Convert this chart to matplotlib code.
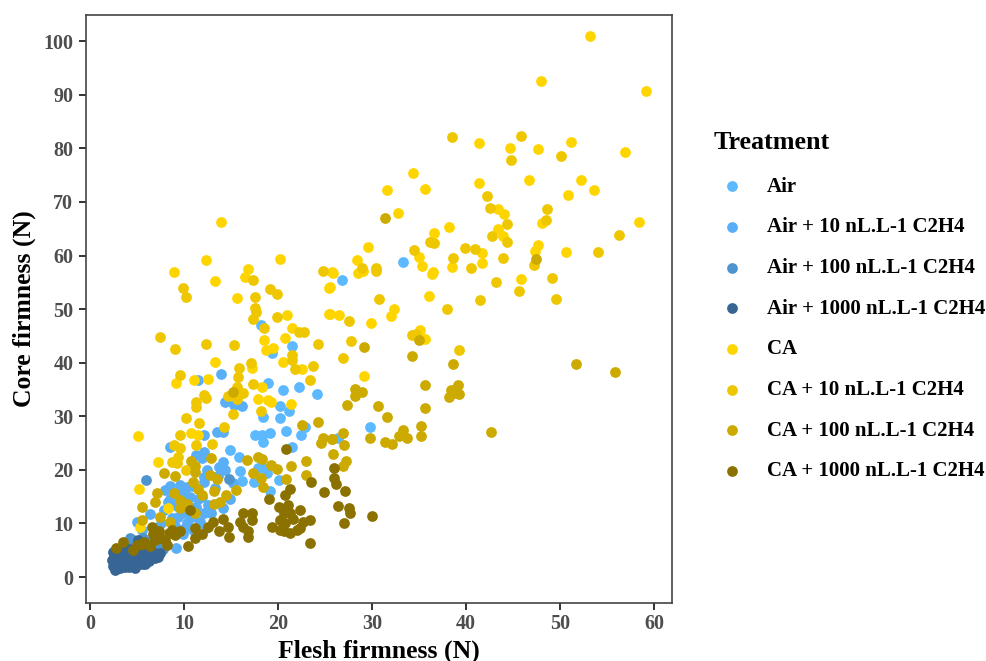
import matplotlib
matplotlib.use('Agg')
import matplotlib.pyplot as plt

plt.rcParams['font.family'] = ['Liberation Serif', 'DejaVu Serif']
plt.rcParams['font.weight'] = 'bold'

treatments = ['Air', 'Air + 10 nL.L-1 C2H4', 'Air + 100 nL.L-1 C2H4', 'Air + 1000 nL.L-1 C2H4',
              'CA', 'CA + 10 nL.L-1 C2H4', 'CA + 100 nL.L-1 C2H4', 'CA + 1000 nL.L-1 C2H4']
colors = ['#5CB8FF', '#59AEF5', '#4E94CF', '#376695', '#FFD500', '#EEC700', '#CCAA00', '#8B7200']

x_ticks = [0, 10, 20, 30, 40, 50, 60]
y_ticks = [0, 10, 20, 30, 40, 50, 60, 70, 80, 90, 100]

# flesh / core firmness
air_x = [33.3, 26.8, 18.2, 21.5, 19.4, 18.9, 20.5, 22.2, 24.1, 20.2, 21.2, 18.4, 20.2, 29.8, 22.9, 20.9, 22.4,
         26.4, 17.5, 18.3, 19.1, 18.4, 21.5, 18.3, 18.8, 17.9, 20.1, 19.1, 17.4, 16.2, 16.0, 15.9, 14.9]
air_y = [58.8, 55.4, 47.1, 43.2, 41.8, 36.2, 34.9, 35.5, 34.1, 31.9, 31.0, 29.9, 29.7, 28.0, 28.0, 27.3, 26.5,
         25.9, 26.5, 26.5, 26.8, 25.2, 24.3, 20.6, 19.5, 20.3, 18.2, 16.1, 17.8, 17.9, 19.8, 22.4, 23.7]

air10_x = [13.9, 11.5, 14.4, 15.3, 16.2, 13.5, 14.1, 12.1, 8.5, 12.1, 11.3, 11.9, 14.2, 13.7, 14.4, 8.5, 9.6, 10.3,
           12.1, 12.1, 13.3, 8.3, 10.6, 11.3, 12.1, 11.7, 10.3, 9.4, 11.0, 9.9, 9.2, 5.0, 14.2, 14.9, 8.5, 7.9,
           10.0, 10.8, 11.5, 10.0, 9.3, 10.6, 11.9, 12.6, 9.0, 10.1, 11.2, 12.3, 8.7, 9.8, 6.4, 7.0, 5.5, 7.6,
           12.9, 13.6, 15.2, 11.0, 12.4, 8.0]
air10_y = [37.9, 36.8, 32.7, 32.1, 32.0, 27.1, 27.1, 26.5, 24.3, 23.4, 22.8, 22.3, 21.4, 20.6, 20.0, 17.0, 17.2, 16.8,
           18.7, 17.8, 16.7, 14.0, 15.0, 13.1, 11.9, 10.3, 10.0, 11.2, 8.8, 8.1, 5.4, 10.3, 12.8, 14.5, 14.5, 12.5,
           12.0, 11.2, 14.5, 14.8, 13.3, 13.0, 14.9, 13.4, 9.6, 9.1, 12.7, 9.2, 11.0, 15.9, 11.7, 9.2, 8.8, 10.0,
           12.0, 18.8, 17.6, 17.0, 20.0, 16.2]

air100_x = [14.8, 6.0, 4.6, 4.3, 4.9, 5.6, 6.2, 3.2, 4.0, 7.0, 7.8, 6.5, 5.6]
air100_y = [18.3, 18.2, 6.9, 7.2, 5.8, 6.4, 4.8, 5.0, 6.0, 6.2, 5.2, 6.8, 7.2]

air1000_x = [2.3, 2.7, 3.7, 4.8, 5.9, 6.9, 7.4, 5.1, 2.5, 2.9, 3.2, 3.4, 3.8, 4.1, 4.4, 4.6, 5.0, 5.3, 5.6, 6.0,
             6.3, 6.6, 7.0, 2.6, 3.0, 3.5, 3.9, 4.3, 4.7, 5.2, 5.5, 5.8, 6.2, 6.5, 2.8, 3.3, 3.7, 4.2, 4.5, 4.9,
             5.4, 3.1, 3.6, 4.0, 2.4, 6.8, 7.2, 5.7]
air1000_y = [3.2, 1.3, 1.8, 1.7, 2.4, 3.5, 4.5, 6.9, 2.0, 2.6, 1.7, 3.6, 2.6, 1.9, 3.3, 2.2, 2.9, 3.8, 3.1, 4.1,
             3.0, 4.6, 4.0, 4.0, 4.2, 3.0, 4.5, 4.2, 3.7, 4.9, 2.5, 5.1, 5.3, 3.9, 1.5, 2.2, 5.0, 5.2, 2.7, 5.5,
             4.4, 3.4, 4.0, 3.0, 4.6, 4.4, 3.7, 3.6]

ca_x = [53.2, 48.0, 59.1, 41.4, 44.7, 47.6, 51.2, 56.9, 34.4, 31.6, 35.6, 41.4, 46.7, 52.2, 53.6, 50.8, 32.8, 43.4,
        44.0, 48.1, 58.4, 38.2, 36.6, 43.4, 43.9, 29.6, 28.4, 35.0, 35.3, 41.7, 41.7, 38.5, 47.6, 47.3, 50.6, 36.5,
        25.8, 28.5, 29.0, 36.4, 45.8, 36.1, 32.3, 32.0, 25.5, 25.5, 26.5, 29.9, 35.1, 35.6, 29.1, 13.9, 12.3,
        8.9, 13.3, 16.8, 16.5, 20.2, 15.6, 21.0, 21.5, 20.7, 18.5, 19.5, 18.7, 25.7, 25.4, 25.4, 13.3, 17.2,
        20.5, 22.5, 9.1, 11.1, 12.5, 18.3, 17.9, 18.9, 19.3, 21.4, 7.2, 5.1, 5.2, 8.3, 5.3, 10.7, 11.5]
ca_y = [100.9, 92.6, 90.8, 81.0, 80.0, 79.9, 81.2, 79.3, 75.4, 72.3, 72.5, 73.6, 74.1, 74.1, 72.2, 71.3, 68.0, 68.6,
        67.7, 66.0, 66.2, 65.4, 64.2, 64.9, 63.6, 61.6, 59.2, 59.8, 58.0, 60.5, 58.6, 57.8, 62.0, 60.9, 60.7, 57.0,
        56.8, 56.8, 57.2, 56.6, 55.7, 52.4, 50.0, 48.7, 54.2, 49.1, 48.9, 47.5, 46.1, 44.4, 37.5, 66.2, 59.1,
        56.9, 55.2, 57.5, 56.0, 59.4, 52.0, 48.9, 46.4, 44.6, 44.3, 42.8, 42.4, 56.9, 54.0, 49.1, 40.2, 39.0,
        40.2, 38.9, 36.3, 36.8, 37.0, 35.4, 33.2, 33.0, 32.6, 32.3, 21.4, 26.4, 16.4, 12.8, 9.4, 26.9, 26.6]

ca10_x = [38.5, 45.8, 44.8, 50.1, 42.2, 42.5, 44.4, 48.6, 48.5, 56.3, 36.2, 36.6, 42.8, 44.3, 34.5, 39.9, 40.9, 38.6,
          40.5, 43.9, 47.2, 54.0, 28.9, 30.4, 30.4, 43.2, 45.6, 49.1, 49.6, 30.7, 38.0, 41.5, 27.5, 27.8, 26.9, 34.3,
          34.7, 39.2, 9.9, 10.2, 17.3, 17.6, 19.1, 19.9, 17.6, 17.7, 17.3, 18.5, 19.9, 22.2, 22.8, 7.5, 9.0, 12.3,
          15.3, 24.2, 15.9, 17.1, 21.5, 21.5, 21.8, 23.7, 23.4, 9.6, 15.7, 17.3, 18.2, 15.2, 14.7, 15.6, 16.3,
          15.6, 12.1, 12.3, 11.3, 11.3, 10.2, 11.6, 9.6, 14.3, 11.3, 13.0, 8.9, 9.6, 9.4, 8.7, 9.3, 10.2, 24.8]
ca10_y = [82.1, 82.4, 77.9, 78.5, 71.1, 68.8, 65.9, 68.7, 66.7, 63.9, 62.6, 62.4, 63.6, 62.6, 61.1, 61.4, 61.2, 59.5,
          57.6, 59.6, 58.2, 60.6, 57.6, 57.6, 57.2, 55.0, 53.4, 55.8, 51.9, 51.9, 50.0, 51.7, 47.7, 44.1, 40.9, 45.2,
          45.3, 42.4, 54.0, 52.2, 55.5, 52.2, 53.7, 52.8, 50.2, 49.5, 48.2, 46.5, 48.5, 45.7, 45.7, 44.8, 42.5, 43.5,
          43.3, 43.4, 39.0, 39.9, 41.4, 40.5, 38.8, 39.4, 36.8, 37.7, 37.3, 36.1, 31.0, 30.4, 33.8, 33.2, 34.4,
          35.5, 34.0, 33.5, 32.6, 31.7, 29.6, 28.7, 26.6, 28.0, 24.7, 24.9, 24.6, 24.0, 22.4, 21.5, 21.2, 20.0, 57.1]

ca100_x = [31.4, 47.4, 35.0, 29.1, 34.3, 38.6, 51.7, 55.8, 28.2, 28.9, 28.2, 35.6, 39.1, 38.4, 39.2, 38.2, 38.7, 27.3,
           30.6, 35.6, 31.6, 35.2, 35.2, 42.6, 33.3, 32.9, 33.7, 31.4, 32.1, 29.8, 26.9, 27.0, 25.7, 25.8, 27.2,
           26.9, 15.2, 22.6, 24.2, 24.6, 24.8, 25.7, 23.0, 21.4, 23.0, 20.9, 17.9, 18.3, 16.7, 19.3, 19.9, 17.3,
           18.2, 18.4, 12.9, 10.7, 11.2, 11.2, 11.0, 9.0, 7.9, 12.8, 13.5, 11.5, 11.9, 13.2, 13.2, 13.8, 14.5,
           15.5, 8.9, 7.1, 6.9, 5.5, 9.6, 10.3, 11.2, 9.6, 7.4, 8.5, 5.5]
ca100_y = [67.0, 59.3, 44.3, 42.9, 41.2, 39.8, 39.7, 38.3, 35.1, 34.6, 33.8, 35.8, 35.8, 34.9, 34.1, 33.6, 34.4, 32.1,
           32.0, 31.5, 29.9, 28.1, 26.4, 27.1, 27.4, 26.4, 25.9, 25.2, 24.8, 25.9, 26.9, 24.6, 25.7, 22.9, 21.6,
           20.7, 34.6, 28.4, 28.9, 25.1, 25.9, 25.7, 21.6, 20.7, 19.0, 18.3, 22.4, 22.0, 21.8, 20.9, 20.1, 19.5,
           18.4, 16.8, 22.3, 21.7, 20.8, 19.6, 17.8, 18.9, 19.5, 19.0, 18.3, 16.5, 15.3, 16.1, 13.7, 14.0, 15.3,
           16.2, 15.7, 15.6, 14.0, 13.1, 14.4, 13.7, 11.9, 12.8, 11.2, 10.3, 10.6]

ca1000_x = [20.9, 25.9, 25.9, 26.2, 27.1, 26.4, 27.5, 27.7, 27.0, 30.0, 23.5, 24.9, 23.4, 21.3, 20.7, 19.0, 20.1, 21.1,
            20.6, 21.3, 22.3, 21.6, 20.2, 20.7, 23.4, 22.7, 22.3, 22.0, 21.3, 20.6, 19.4, 20.2, 17.2, 16.3, 17.2,
            16.0, 16.3, 16.8, 16.8, 14.1, 13.1, 12.6, 13.7, 14.7, 14.8, 11.2, 11.9, 11.2, 10.4, 2.8, 3.5, 4.6, 5.0,
            5.7, 6.6, 6.7, 6.4, 7.4, 7.3, 8.0, 8.2, 8.7, 9.0, 9.6, 10.6, 8.4, 6.9, 5.5]
ca1000_y = [23.9, 20.3, 18.4, 17.3, 16.1, 13.2, 12.8, 11.9, 10.1, 11.3, 17.7, 15.9, 6.3, 16.4, 15.3, 14.5, 13.1, 13.4,
            11.9, 11.9, 12.5, 10.9, 10.6, 10.0, 10.6, 10.3, 9.1, 8.8, 8.3, 8.5, 9.4, 8.8, 11.9, 11.9, 10.6,
            10.3, 9.4, 8.5, 7.5, 10.9, 10.3, 9.4, 8.5, 9.4, 7.4, 9.1, 8.0, 7.2, 5.8, 5.4, 6.6, 5.0, 6.0,
            6.6, 9.4, 8.1, 5.7, 7.2, 8.5, 6.9, 6.0, 8.8, 7.8, 8.5, 12.6, 8.2, 6.9, 6.2]

all_x = [air_x, air10_x, air100_x, air1000_x, ca_x, ca10_x, ca100_x, ca1000_x]
all_y = [air_y, air10_y, air100_y, air1000_y, ca_y, ca10_y, ca100_y, ca1000_y]

fig = plt.figure(figsize=(9.87, 6.61), dpi=100)
ax = fig.add_axes([86.5 / 987, 1 - 603 / 661, (672 - 86.5) / 987, (603 - 15) / 661])

for xs, ys, col, name in zip(all_x, all_y, colors, treatments):
    ax.scatter(xs, ys, s=60, color=col, linewidths=0, label=name)

ax.set_xlim(-0.37, 61.9)
ax.set_ylim(-4.85, 104.9)
ax.set_xticks(x_ticks)
ax.set_yticks(y_ticks)
ax.tick_params(axis='both', length=5, width=1.4, color='#333333', labelcolor='#4D4D4D',
               labelsize=14.5, pad=4.5)
ax.tick_params(axis='x', pad=3.2)
for sp in ax.spines.values():
    sp.set_linewidth(1.2)
    sp.set_color('#444444')

ax.set_xlabel('Flesh firmness (N)', fontsize=18.5, fontweight='bold', color='black', labelpad=3.5)
ax.set_ylabel('Core firmness (N)', fontsize=18.5, fontweight='bold', color='black', labelpad=5)

leg = ax.legend(title='Treatment', frameon=False, loc='upper left',
                bbox_to_anchor=(697.7 / 987, 1 - 114.5 / 661), bbox_transform=fig.transFigure,
                fontsize=15, title_fontproperties={'size': 18.8, 'weight': 'bold'},
                labelspacing=0.99, handletextpad=0.93, handlelength=1.5, alignment='left', borderpad=0.4)
leg.get_title().set_position((-2.5, 2.5))

fig.savefig('out.png', dpi=100)
